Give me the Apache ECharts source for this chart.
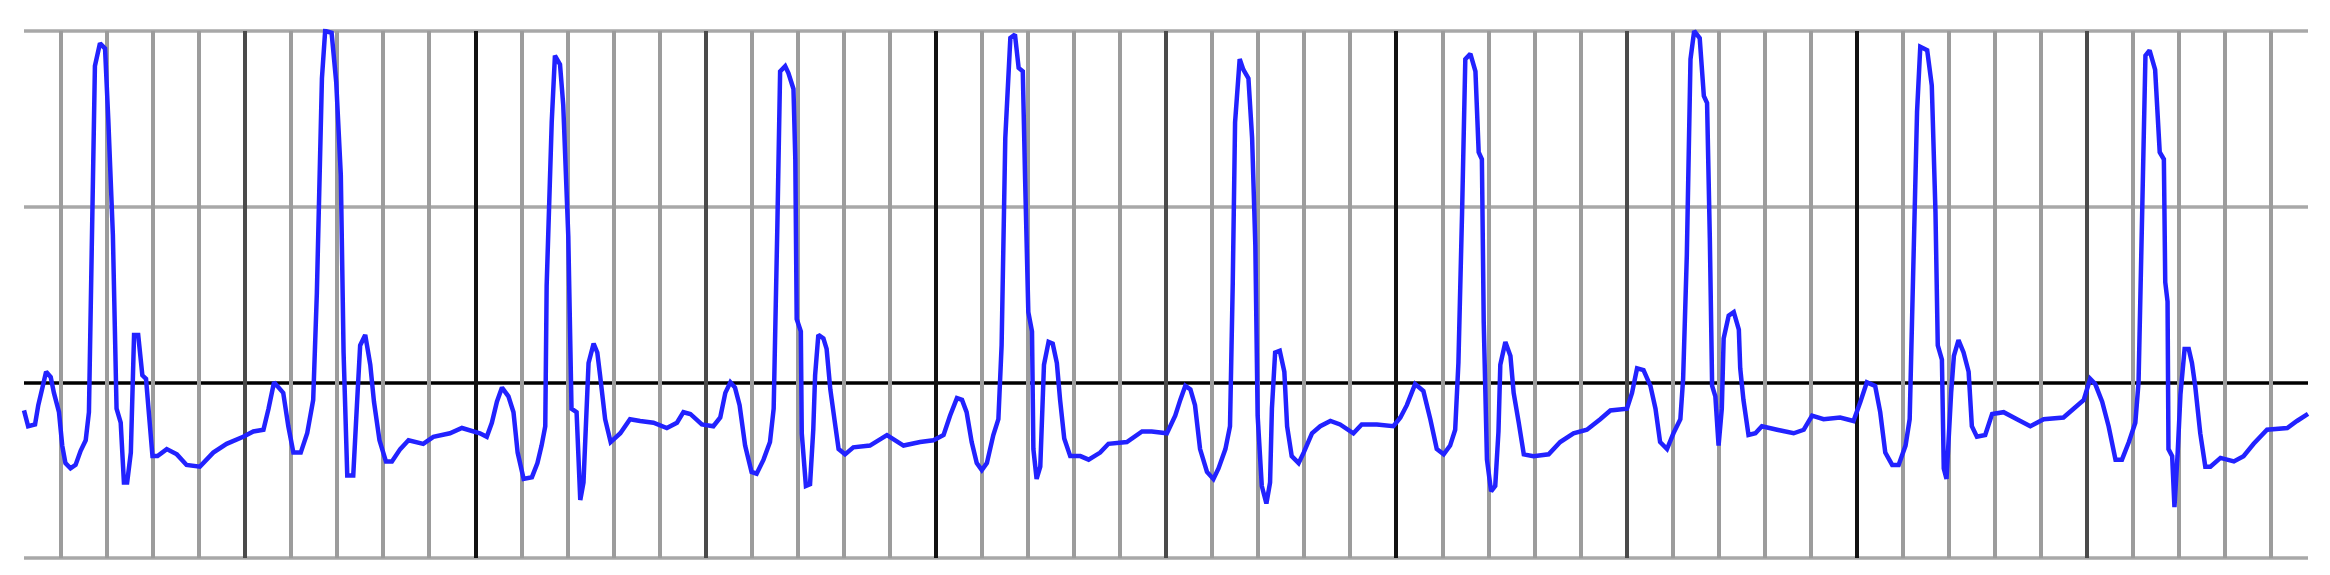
<!DOCTYPE html>
<html>
<head>
<meta charset="utf-8">
<title>ECG strip</title>
<script src="https://cdn.jsdelivr.net/npm/echarts@6.0.0/dist/echarts.min.js"></script>
<style>
  html, body { margin: 0; padding: 0; background: #fff; }
  #chart { width: 2330px; height: 575px; }
</style>
</head>
<body>
<div id="chart"></div>
<script>
// time in small grid boxes, amplitude in big vertical units
const ecgTime = [
  0.20, 0.29, 0.44, 0.51, 0.61, 0.68, 0.78, 0.85, 0.96, 1.03, 1.10, 1.21, 1.32, 1.43, 1.54, 1.61,
  1.67, 1.74, 1.85, 1.96, 2.03, 2.13, 2.21, 2.30, 2.37, 2.44, 2.52, 2.59, 2.68, 2.77, 2.85, 2.92,
  2.99, 3.10, 3.30, 3.52, 3.73, 4.02, 4.31, 4.60, 4.96, 5.18, 5.40, 5.51, 5.63, 5.83, 5.94, 6.05,
  6.21, 6.35, 6.48, 6.56, 6.67, 6.74, 6.88, 6.98, 7.08, 7.14, 7.22, 7.35, 7.43, 7.50, 7.61, 7.72,
  7.80, 7.92, 8.06, 8.19, 8.37, 8.55,
  8.87, 9.09, 9.45, 9.71, 10.10, 10.25, 10.36, 10.47, 10.58, 10.72, 10.83, 10.92, 11.05, 11.23, 11.35, 11.44,
  11.52, 11.55, 11.66, 11.73, 11.84, 11.91, 12.02, 12.09, 12.20, 12.28, 12.35, 12.46, 12.57, 12.65, 12.71, 12.82,
  12.94, 13.15, 13.36, 13.58, 13.87, 14.16, 14.38, 14.52, 14.67, 14.92, 15.17, 15.32, 15.43, 15.54, 15.64, 15.74,
  15.86, 16.00, 16.11, 16.26, 16.40, 16.48, 16.56, 16.62, 16.73, 16.80,
  16.91, 16.95, 16.98, 17.07, 17.09, 17.18, 17.27, 17.34, 17.38, 17.45, 17.56, 17.63, 17.71, 17.81, 17.89, 18.03,
  18.21, 18.57, 18.94, 19.30, 19.66, 19.95, 20.17, 20.31, 20.46, 20.57, 20.67, 20.78, 20.89, 21.00, 21.11, 21.25,
  21.36, 21.43, 21.51, 21.62, 21.72, 21.80, 21.89, 21.94, 22.01, 22.09, 22.12, 22.19, 22.27, 22.35, 22.45, 22.54,
  22.63, 22.70, 22.79, 22.92, 23.14, 23.32, 23.57, 23.75, 24.15, 24.48, 24.69, 25.02,
  25.20, 25.31, 25.42, 25.53, 25.63, 25.74, 25.89, 26.03, 26.14, 26.29, 26.39, 26.45, 26.50, 26.60, 26.68, 26.79,
  26.87, 26.94, 26.99, 27.08, 27.18, 27.26, 27.30, 27.37, 27.47, 27.57, 27.63, 27.73, 27.88, 27.99, 28.17, 28.35,
  28.57, 28.78, 29.07, 29.25, 29.58, 29.94, 30.09, 30.23, 30.41, 30.59, 30.74, 30.88, 31.03, 31.17, 31.28, 31.35,
  31.43, 31.50, 31.61, 31.72, 31.79, 31.86, 31.90, 31.97, 32.06, 32.15, 32.22, 32.26, 32.37, 32.48, 32.55, 32.66,
  32.77, 32.98, 33.31,
  33.56, 33.85, 34.14, 34.43, 34.65, 35.01, 35.12, 35.23, 35.37, 35.52, 35.63, 35.73, 35.88, 36.02, 36.17, 36.23,
  36.31, 36.39, 36.47, 36.59, 36.68, 36.75, 36.81, 36.86, 36.93, 37.00, 37.07, 37.11, 37.22, 37.33, 37.44, 37.47,
  37.54, 37.65, 37.80, 37.94, 38.27, 38.63, 38.85, 39.03, 39.28, 39.64, 39.93, 40.08, 40.22, 40.40, 40.51, 40.62,
  40.77, 40.91, 41.06, 41.15, 41.20, 41.31, 41.38,
  41.53, 41.63, 41.71, 41.76, 41.85, 41.89, 41.95, 42.05, 42.11, 42.21, 42.32, 42.43, 42.50, 42.61, 42.79, 42.94,
  43.19, 43.48, 43.77, 44.06, 44.49, 44.71, 44.93, 45.07, 45.18, 45.33, 45.47, 45.62, 45.76, 45.91, 46.05, 46.12,
  46.20, 46.27, 46.36, 46.48, 46.58, 46.67, 46.70, 46.75, 46.77, 46.85, 46.90, 46.97, 47.03, 47.12, 47.21, 47.28,
  47.35, 47.46, 47.57, 47.68, 47.90, 48.19, 48.40, 48.62, 48.91, 49.35, 49.56, 49.80
];
const ecgValue = [
  -0.16, -0.25, -0.24, -0.13, -0.02, 0.06, 0.03, -0.06, -0.17, -0.36, -0.46, -0.49, -0.47, -0.39, -0.33, -0.17,
  0.74, 1.80, 1.93, 1.90, 1.50, 0.84, -0.15, -0.23, -0.57, -0.57, -0.40, 0.27, 0.27, 0.04, 0.02, -0.20,
  -0.42, -0.42, -0.38, -0.41, -0.47, -0.48, -0.40, -0.35, -0.31, -0.28, -0.27, -0.15, 0.00, -0.06, -0.25, -0.40,
  -0.40, -0.29, -0.10, 0.51, 1.73, 2.00, 1.99, 1.71, 1.18, 0.17, -0.53, -0.53, -0.13, 0.21, 0.27, 0.10,
  -0.11, -0.33, -0.45, -0.45, -0.38, -0.33,
  -0.35, -0.31, -0.29, -0.26, -0.29, -0.31, -0.23, -0.11, -0.03, -0.08, -0.17, -0.40, -0.55, -0.54, -0.46, -0.36,
  -0.25, 0.55, 1.48, 1.86, 1.81, 1.58, 0.83, -0.15, -0.17, -0.67, -0.57, 0.11, 0.22, 0.17, 0.04, -0.21,
  -0.34, -0.29, -0.21, -0.22, -0.23, -0.26, -0.23, -0.17, -0.18, -0.24, -0.25, -0.20, -0.06, 0.00, -0.03, -0.13,
  -0.36, -0.51, -0.52, -0.44, -0.34, -0.15, 0.89, 1.77, 1.80, 1.76,
  1.67, 1.27, 0.36, 0.29, -0.29, -0.59, -0.58, -0.27, 0.04, 0.27, 0.25, 0.19, -0.04, -0.23, -0.38, -0.41,
  -0.37, -0.36, -0.30, -0.36, -0.34, -0.33, -0.30, -0.19, -0.09, -0.10, -0.17, -0.34, -0.46, -0.50, -0.46, -0.30,
  -0.21, 0.21, 1.39, 1.96, 1.98, 1.79, 1.77, 1.16, 0.40, 0.29, -0.38, -0.55, -0.48, 0.10, 0.23, 0.22,
  0.11, -0.10, -0.32, -0.42, -0.42, -0.44, -0.40, -0.35, -0.34, -0.28, -0.28, -0.29,
  -0.19, -0.10, -0.02, -0.04, -0.13, -0.38, -0.51, -0.55, -0.49, -0.38, -0.25, 0.57, 1.48, 1.84, 1.78, 1.73,
  1.39, 0.78, -0.19, -0.59, -0.69, -0.57, -0.15, 0.17, 0.18, 0.06, -0.25, -0.42, -0.46, -0.40, -0.29, -0.25,
  -0.22, -0.24, -0.29, -0.24, -0.24, -0.25, -0.20, -0.13, -0.01, -0.05, -0.21, -0.38, -0.41, -0.36, -0.27, 0.11,
  0.97, 1.84, 1.87, 1.77, 1.31, 1.27, 0.34, -0.44, -0.62, -0.59, -0.28, 0.10, 0.23, 0.15, -0.06, -0.23,
  -0.41, -0.42, -0.41,
  -0.34, -0.29, -0.27, -0.21, -0.16, -0.15, -0.06, 0.08, 0.07, -0.02, -0.15, -0.34, -0.38, -0.29, -0.21, 0.02,
  0.72, 1.84, 2.00, 1.96, 1.63, 1.59, 0.82, -0.02, -0.08, -0.36, -0.15, 0.25, 0.38, 0.40, 0.30, 0.08,
  -0.10, -0.30, -0.29, -0.25, -0.27, -0.29, -0.27, -0.19, -0.21, -0.20, -0.22, -0.11, 0.00, -0.02, -0.17, -0.40,
  -0.47, -0.47, -0.36, -0.21, 0.34, 1.54, 1.91,
  1.89, 1.69, 0.97, 0.21, 0.13, -0.49, -0.55, -0.06, 0.15, 0.24, 0.17, 0.06, -0.25, -0.31, -0.30, -0.18,
  -0.17, -0.21, -0.25, -0.21, -0.20, -0.15, -0.10, 0.02, -0.01, -0.11, -0.25, -0.44, -0.44, -0.34, -0.23, 0.00,
  0.98, 1.86, 1.89, 1.78, 1.31, 1.27, 0.57, 0.46, -0.38, -0.42, -0.71, -0.40, -0.07, 0.19, 0.19, 0.11,
  -0.02, -0.29, -0.48, -0.48, -0.43, -0.45, -0.42, -0.35, -0.27, -0.26, -0.22, -0.18
];

// vertical chart-paper lines (small boxes) and the heavier lines every 5 boxes
const minorLines = [1, 2, 3, 4, 6, 7, 8, 9, 11, 12, 13, 14, 16, 17, 18, 19, 21, 22, 23, 24,
  26, 27, 28, 29, 31, 32, 33, 34, 36, 37, 38, 39, 41, 42, 43, 44, 46, 47, 48, 49];
const majorLines = [5, 10, 15, 20, 25, 30, 35, 40, 45];
const xRange = [0.2, 49.8];
const yRange = [-1, 2];

const chart = echarts.init(document.getElementById('chart'));

const paperLines = []
minorLines.forEach(v => {
  paperLines.push({ xAxis: v, lineStyle: { color: '#9c9c9c', width: 4, type: 'solid' } })
})
majorLines.forEach((v, i) => {
  paperLines.push({ xAxis: v, lineStyle: { color: i % 2 ? '#111111' : '#4a4a4a', width: 4, type: 'solid' } })
})

const option = {
  animation: false,
  backgroundColor: '#ffffff',
  grid: { left: 24, right: 22, top: 31, bottom: 17 },
  xAxis: {
    type: 'value',
    min: xRange[0],
    max: xRange[1],
    axisLine: { show: false },
    axisTick: { show: false },
    axisLabel: { show: false },
    splitLine: { show: false }
  },
  yAxis: {
    type: 'value',
    min: yRange[0],
    max: yRange[1],
    interval: 1,
    axisLine: { show: false },
    axisTick: { show: false },
    axisLabel: { show: false },
    splitLine: {
      show: true,
      showMinLine: true,
      showMaxLine: true,
      lineStyle: { color: ['#a8a8a8', '#000000', '#a8a8a8', '#a8a8a8'], width: 3.5 }
    }
  },
  series: [
    {
      name: 'paper',
      type: 'line',
      data: [],
      silent: true,
      z: 1,
      markLine: {
        silent: true,
        symbol: ['none', 'none'],
        label: { show: false },
        emphasis: { disabled: true },
        data: paperLines
      }
    },
    {
      name: 'ECG',
      type: 'line',
      z: 5,
      data: ecgTime.map((t, i) => [t, ecgValue[i]]),
      showSymbol: false,
      smooth: false,
      clip: true,
      lineStyle: { color: '#2222ff', width: 4.5, join: 'miter', miterLimit: 2 }
    }
  ]
};

chart.setOption(option);
</script>
</body>
</html>
